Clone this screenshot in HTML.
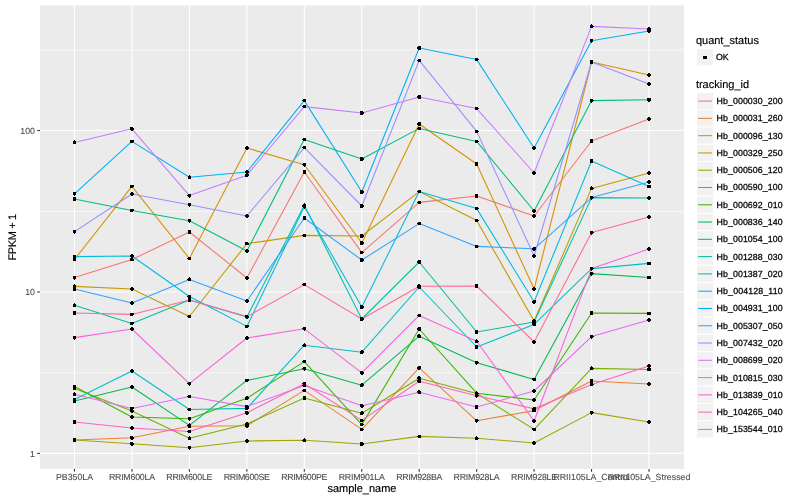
<!DOCTYPE html>
<html lang="en"><head><meta charset="utf-8"><title>FPKM + 1 by sample_name</title>
<style>html,body{margin:0;padding:0;background:#fff;}body{width:800px;height:500px;overflow:hidden;}svg{display:block;text-rendering:geometricPrecision;font-family:"Liberation Sans",Arial,Helvetica,sans-serif;}</style></head><body>
<svg width="800" height="500" viewBox="0 0 800 500">
<rect width="800" height="500" fill="#ffffff"/>
<rect x="40.0" y="5.5" width="643.90" height="463.40" fill="#EBEBEB"/>
<g stroke="#ffffff" fill="none">
<line x1="40.0" x2="683.9" y1="49.9" y2="49.9" stroke-width="0.6"/>
<line x1="40.0" x2="683.9" y1="211.4" y2="211.4" stroke-width="0.6"/>
<line x1="40.0" x2="683.9" y1="372.8" y2="372.8" stroke-width="0.6"/>
<line x1="40.0" x2="683.9" y1="130.5" y2="130.5" stroke-width="1.07"/>
<line x1="40.0" x2="683.9" y1="292.0" y2="292.0" stroke-width="1.07"/>
<line x1="40.0" x2="683.9" y1="453.4" y2="453.4" stroke-width="1.07"/>
<line x1="74.50" x2="74.50" y1="5.5" y2="468.9" stroke-width="1.07"/>
<line x1="131.95" x2="131.95" y1="5.5" y2="468.9" stroke-width="1.07"/>
<line x1="189.40" x2="189.40" y1="5.5" y2="468.9" stroke-width="1.07"/>
<line x1="246.85" x2="246.85" y1="5.5" y2="468.9" stroke-width="1.07"/>
<line x1="304.30" x2="304.30" y1="5.5" y2="468.9" stroke-width="1.07"/>
<line x1="361.75" x2="361.75" y1="5.5" y2="468.9" stroke-width="1.07"/>
<line x1="419.20" x2="419.20" y1="5.5" y2="468.9" stroke-width="1.07"/>
<line x1="476.65" x2="476.65" y1="5.5" y2="468.9" stroke-width="1.07"/>
<line x1="534.10" x2="534.10" y1="5.5" y2="468.9" stroke-width="1.07"/>
<line x1="591.55" x2="591.55" y1="5.5" y2="468.9" stroke-width="1.07"/>
<line x1="649.00" x2="649.00" y1="5.5" y2="468.9" stroke-width="1.07"/>
</g>
<g fill="none" stroke-width="1.07" stroke-linejoin="round" stroke-linecap="butt">
<polyline stroke="#F8766D" points="74.5,277.6 131.9,259.6 189.4,232.0 246.9,278.0 304.3,172.0 361.8,252.6 419.2,202.4 476.7,196.0 534.1,216.0 591.6,141.0 649.0,119.0"/>
<polyline stroke="#EA8331" points="74.5,440.0 131.9,437.8 189.4,426.2 246.9,425.8 304.3,390.4 361.8,429.4 419.2,367.8 476.7,420.8 534.1,410.6 591.6,381.0 649.0,384.0"/>
<polyline stroke="#D89000" points="74.5,259.5 131.9,186.4 189.4,258.5 246.9,148.0 304.3,164.8 361.8,243.0 419.2,124.0 476.7,164.0 534.1,289.0 591.6,62.0 649.0,75.0"/>
<polyline stroke="#C09B00" points="74.5,286.4 131.9,289.0 189.4,316.5 246.9,243.6 304.3,235.4 361.8,236.0 419.2,191.6 476.7,220.6 534.1,321.0 591.6,188.4 649.0,173.0"/>
<polyline stroke="#A3A500" points="74.5,440.0 131.9,443.8 189.4,447.8 246.9,441.0 304.3,440.2 361.8,444.0 419.2,436.4 476.7,438.2 534.1,443.0 591.6,412.6 649.0,422.0"/>
<polyline stroke="#7CAE00" points="74.5,388.5 131.9,411.0 189.4,438.2 246.9,424.0 304.3,398.0 361.8,413.2 419.2,378.2 476.7,393.4 534.1,429.4 591.6,368.4 649.0,369.5"/>
<polyline stroke="#39B600" points="74.5,386.5 131.9,417.0 189.4,418.8 246.9,398.2 304.3,361.6 361.8,424.6 419.2,329.0 476.7,393.2 534.1,400.0 591.6,313.0 649.0,313.4"/>
<polyline stroke="#00BB4E" points="74.5,401.0 131.9,387.0 189.4,425.4 246.9,380.4 304.3,368.8 361.8,385.2 419.2,336.2 476.7,362.8 534.1,379.4 591.6,273.6 649.0,277.5"/>
<polyline stroke="#00BF7D" points="74.5,199.0 131.9,210.4 189.4,220.8 246.9,251.0 304.3,139.6 361.8,159.0 419.2,128.4 476.7,141.4 534.1,211.0 591.6,100.6 649.0,99.8"/>
<polyline stroke="#00C1A3" points="74.5,305.3 131.9,323.4 189.4,300.0 246.9,317.0 304.3,205.2 361.8,319.0 419.2,262.0 476.7,332.0 534.1,322.0 591.6,197.6 649.0,198.0"/>
<polyline stroke="#00BFC4" points="74.5,399.5 131.9,371.0 189.4,409.5 246.9,408.4 304.3,345.2 361.8,352.2 419.2,287.0 476.7,347.0 534.1,324.4 591.6,268.6 649.0,263.4"/>
<polyline stroke="#00BAE0" points="74.5,256.6 131.9,256.0 189.4,296.5 246.9,326.4 304.3,206.8 361.8,307.0 419.2,191.6 476.7,208.6 534.1,301.8 591.6,161.0 649.0,186.5"/>
<polyline stroke="#00B0F6" points="74.5,193.8 131.9,141.4 189.4,177.2 246.9,172.0 304.3,100.6 361.8,192.0 419.2,48.0 476.7,59.6 534.1,148.0 591.6,40.8 649.0,31.0"/>
<polyline stroke="#35A2FF" points="74.5,289.0 131.9,303.0 189.4,279.4 246.9,301.0 304.3,218.0 361.8,260.0 419.2,223.6 476.7,246.4 534.1,248.8 591.6,197.6 649.0,182.0"/>
<polyline stroke="#9590FF" points="74.5,231.6 131.9,194.0 189.4,204.8 246.9,216.0 304.3,147.6 361.8,206.0 419.2,60.4 476.7,131.4 534.1,256.0 591.6,62.0 649.0,84.0"/>
<polyline stroke="#C77CFF" points="74.5,142.4 131.9,128.8 189.4,195.6 246.9,175.2 304.3,106.6 361.8,113.0 419.2,97.0 476.7,108.6 534.1,173.0 591.6,26.4 649.0,29.0"/>
<polyline stroke="#E76BF3" points="74.5,394.2 131.9,408.5 189.4,396.5 246.9,406.6 304.3,385.6 361.8,405.8 419.2,392.2 476.7,407.0 534.1,391.0 591.6,336.6 649.0,320.0"/>
<polyline stroke="#FA62DB" points="74.5,337.6 131.9,329.0 189.4,383.6 246.9,338.0 304.3,328.8 361.8,372.8 419.2,315.4 476.7,341.2 534.1,421.0 591.6,268.6 649.0,249.0"/>
<polyline stroke="#FF62BC" points="74.5,422.0 131.9,428.0 189.4,431.5 246.9,412.8 304.3,383.8 361.8,420.4 419.2,381.2 476.7,395.7 534.1,408.8 591.6,384.4 649.0,366.0"/>
<polyline stroke="#FF6A98" points="74.5,313.0 131.9,314.4 189.4,300.0 246.9,316.6 304.3,284.6 361.8,319.0 419.2,286.2 476.7,286.0 534.1,342.0 591.6,232.6 649.0,216.9"/>
</g>
<g fill="#000000" shape-rendering="crispEdges">
<circle cx="74.5" cy="277.6" r="1.95"/>
<circle cx="131.9" cy="259.6" r="1.95"/>
<circle cx="189.4" cy="232.0" r="1.95"/>
<circle cx="246.9" cy="278.0" r="1.95"/>
<circle cx="304.3" cy="172.0" r="1.95"/>
<circle cx="361.8" cy="252.6" r="1.95"/>
<circle cx="419.2" cy="202.4" r="1.95"/>
<circle cx="476.7" cy="196.0" r="1.95"/>
<circle cx="534.1" cy="216.0" r="1.95"/>
<circle cx="591.6" cy="141.0" r="1.95"/>
<circle cx="649.0" cy="119.0" r="1.95"/>
<circle cx="74.5" cy="440.0" r="1.95"/>
<circle cx="131.9" cy="437.8" r="1.95"/>
<circle cx="189.4" cy="426.2" r="1.95"/>
<circle cx="246.9" cy="425.8" r="1.95"/>
<circle cx="304.3" cy="390.4" r="1.95"/>
<circle cx="361.8" cy="429.4" r="1.95"/>
<circle cx="419.2" cy="367.8" r="1.95"/>
<circle cx="476.7" cy="420.8" r="1.95"/>
<circle cx="534.1" cy="410.6" r="1.95"/>
<circle cx="591.6" cy="381.0" r="1.95"/>
<circle cx="649.0" cy="384.0" r="1.95"/>
<circle cx="74.5" cy="259.5" r="1.95"/>
<circle cx="131.9" cy="186.4" r="1.95"/>
<circle cx="189.4" cy="258.5" r="1.95"/>
<circle cx="246.9" cy="148.0" r="1.95"/>
<circle cx="304.3" cy="164.8" r="1.95"/>
<circle cx="361.8" cy="243.0" r="1.95"/>
<circle cx="419.2" cy="124.0" r="1.95"/>
<circle cx="476.7" cy="164.0" r="1.95"/>
<circle cx="534.1" cy="289.0" r="1.95"/>
<circle cx="591.6" cy="62.0" r="1.95"/>
<circle cx="649.0" cy="75.0" r="1.95"/>
<circle cx="74.5" cy="286.4" r="1.95"/>
<circle cx="131.9" cy="289.0" r="1.95"/>
<circle cx="189.4" cy="316.5" r="1.95"/>
<circle cx="246.9" cy="243.6" r="1.95"/>
<circle cx="304.3" cy="235.4" r="1.95"/>
<circle cx="361.8" cy="236.0" r="1.95"/>
<circle cx="419.2" cy="191.6" r="1.95"/>
<circle cx="476.7" cy="220.6" r="1.95"/>
<circle cx="534.1" cy="321.0" r="1.95"/>
<circle cx="591.6" cy="188.4" r="1.95"/>
<circle cx="649.0" cy="173.0" r="1.95"/>
<circle cx="74.5" cy="440.0" r="1.95"/>
<circle cx="131.9" cy="443.8" r="1.95"/>
<circle cx="189.4" cy="447.8" r="1.95"/>
<circle cx="246.9" cy="441.0" r="1.95"/>
<circle cx="304.3" cy="440.2" r="1.95"/>
<circle cx="361.8" cy="444.0" r="1.95"/>
<circle cx="419.2" cy="436.4" r="1.95"/>
<circle cx="476.7" cy="438.2" r="1.95"/>
<circle cx="534.1" cy="443.0" r="1.95"/>
<circle cx="591.6" cy="412.6" r="1.95"/>
<circle cx="649.0" cy="422.0" r="1.95"/>
<circle cx="74.5" cy="388.5" r="1.95"/>
<circle cx="131.9" cy="411.0" r="1.95"/>
<circle cx="189.4" cy="438.2" r="1.95"/>
<circle cx="246.9" cy="424.0" r="1.95"/>
<circle cx="304.3" cy="398.0" r="1.95"/>
<circle cx="361.8" cy="413.2" r="1.95"/>
<circle cx="419.2" cy="378.2" r="1.95"/>
<circle cx="476.7" cy="393.4" r="1.95"/>
<circle cx="534.1" cy="429.4" r="1.95"/>
<circle cx="591.6" cy="368.4" r="1.95"/>
<circle cx="649.0" cy="369.5" r="1.95"/>
<circle cx="74.5" cy="386.5" r="1.95"/>
<circle cx="131.9" cy="417.0" r="1.95"/>
<circle cx="189.4" cy="418.8" r="1.95"/>
<circle cx="246.9" cy="398.2" r="1.95"/>
<circle cx="304.3" cy="361.6" r="1.95"/>
<circle cx="361.8" cy="424.6" r="1.95"/>
<circle cx="419.2" cy="329.0" r="1.95"/>
<circle cx="476.7" cy="393.2" r="1.95"/>
<circle cx="534.1" cy="400.0" r="1.95"/>
<circle cx="591.6" cy="313.0" r="1.95"/>
<circle cx="649.0" cy="313.4" r="1.95"/>
<circle cx="74.5" cy="401.0" r="1.95"/>
<circle cx="131.9" cy="387.0" r="1.95"/>
<circle cx="189.4" cy="425.4" r="1.95"/>
<circle cx="246.9" cy="380.4" r="1.95"/>
<circle cx="304.3" cy="368.8" r="1.95"/>
<circle cx="361.8" cy="385.2" r="1.95"/>
<circle cx="419.2" cy="336.2" r="1.95"/>
<circle cx="476.7" cy="362.8" r="1.95"/>
<circle cx="534.1" cy="379.4" r="1.95"/>
<circle cx="591.6" cy="273.6" r="1.95"/>
<circle cx="649.0" cy="277.5" r="1.95"/>
<circle cx="74.5" cy="199.0" r="1.95"/>
<circle cx="131.9" cy="210.4" r="1.95"/>
<circle cx="189.4" cy="220.8" r="1.95"/>
<circle cx="246.9" cy="251.0" r="1.95"/>
<circle cx="304.3" cy="139.6" r="1.95"/>
<circle cx="361.8" cy="159.0" r="1.95"/>
<circle cx="419.2" cy="128.4" r="1.95"/>
<circle cx="476.7" cy="141.4" r="1.95"/>
<circle cx="534.1" cy="211.0" r="1.95"/>
<circle cx="591.6" cy="100.6" r="1.95"/>
<circle cx="649.0" cy="99.8" r="1.95"/>
<circle cx="74.5" cy="305.3" r="1.95"/>
<circle cx="131.9" cy="323.4" r="1.95"/>
<circle cx="189.4" cy="300.0" r="1.95"/>
<circle cx="246.9" cy="317.0" r="1.95"/>
<circle cx="304.3" cy="205.2" r="1.95"/>
<circle cx="361.8" cy="319.0" r="1.95"/>
<circle cx="419.2" cy="262.0" r="1.95"/>
<circle cx="476.7" cy="332.0" r="1.95"/>
<circle cx="534.1" cy="322.0" r="1.95"/>
<circle cx="591.6" cy="197.6" r="1.95"/>
<circle cx="649.0" cy="198.0" r="1.95"/>
<circle cx="74.5" cy="399.5" r="1.95"/>
<circle cx="131.9" cy="371.0" r="1.95"/>
<circle cx="189.4" cy="409.5" r="1.95"/>
<circle cx="246.9" cy="408.4" r="1.95"/>
<circle cx="304.3" cy="345.2" r="1.95"/>
<circle cx="361.8" cy="352.2" r="1.95"/>
<circle cx="419.2" cy="287.0" r="1.95"/>
<circle cx="476.7" cy="347.0" r="1.95"/>
<circle cx="534.1" cy="324.4" r="1.95"/>
<circle cx="591.6" cy="268.6" r="1.95"/>
<circle cx="649.0" cy="263.4" r="1.95"/>
<circle cx="74.5" cy="256.6" r="1.95"/>
<circle cx="131.9" cy="256.0" r="1.95"/>
<circle cx="189.4" cy="296.5" r="1.95"/>
<circle cx="246.9" cy="326.4" r="1.95"/>
<circle cx="304.3" cy="206.8" r="1.95"/>
<circle cx="361.8" cy="307.0" r="1.95"/>
<circle cx="419.2" cy="191.6" r="1.95"/>
<circle cx="476.7" cy="208.6" r="1.95"/>
<circle cx="534.1" cy="301.8" r="1.95"/>
<circle cx="591.6" cy="161.0" r="1.95"/>
<circle cx="649.0" cy="186.5" r="1.95"/>
<circle cx="74.5" cy="193.8" r="1.95"/>
<circle cx="131.9" cy="141.4" r="1.95"/>
<circle cx="189.4" cy="177.2" r="1.95"/>
<circle cx="246.9" cy="172.0" r="1.95"/>
<circle cx="304.3" cy="100.6" r="1.95"/>
<circle cx="361.8" cy="192.0" r="1.95"/>
<circle cx="419.2" cy="48.0" r="1.95"/>
<circle cx="476.7" cy="59.6" r="1.95"/>
<circle cx="534.1" cy="148.0" r="1.95"/>
<circle cx="591.6" cy="40.8" r="1.95"/>
<circle cx="649.0" cy="31.0" r="1.95"/>
<circle cx="74.5" cy="289.0" r="1.95"/>
<circle cx="131.9" cy="303.0" r="1.95"/>
<circle cx="189.4" cy="279.4" r="1.95"/>
<circle cx="246.9" cy="301.0" r="1.95"/>
<circle cx="304.3" cy="218.0" r="1.95"/>
<circle cx="361.8" cy="260.0" r="1.95"/>
<circle cx="419.2" cy="223.6" r="1.95"/>
<circle cx="476.7" cy="246.4" r="1.95"/>
<circle cx="534.1" cy="248.8" r="1.95"/>
<circle cx="591.6" cy="197.6" r="1.95"/>
<circle cx="649.0" cy="182.0" r="1.95"/>
<circle cx="74.5" cy="231.6" r="1.95"/>
<circle cx="131.9" cy="194.0" r="1.95"/>
<circle cx="189.4" cy="204.8" r="1.95"/>
<circle cx="246.9" cy="216.0" r="1.95"/>
<circle cx="304.3" cy="147.6" r="1.95"/>
<circle cx="361.8" cy="206.0" r="1.95"/>
<circle cx="419.2" cy="60.4" r="1.95"/>
<circle cx="476.7" cy="131.4" r="1.95"/>
<circle cx="534.1" cy="256.0" r="1.95"/>
<circle cx="591.6" cy="62.0" r="1.95"/>
<circle cx="649.0" cy="84.0" r="1.95"/>
<circle cx="74.5" cy="142.4" r="1.95"/>
<circle cx="131.9" cy="128.8" r="1.95"/>
<circle cx="189.4" cy="195.6" r="1.95"/>
<circle cx="246.9" cy="175.2" r="1.95"/>
<circle cx="304.3" cy="106.6" r="1.95"/>
<circle cx="361.8" cy="113.0" r="1.95"/>
<circle cx="419.2" cy="97.0" r="1.95"/>
<circle cx="476.7" cy="108.6" r="1.95"/>
<circle cx="534.1" cy="173.0" r="1.95"/>
<circle cx="591.6" cy="26.4" r="1.95"/>
<circle cx="649.0" cy="29.0" r="1.95"/>
<circle cx="74.5" cy="394.2" r="1.95"/>
<circle cx="131.9" cy="408.5" r="1.95"/>
<circle cx="189.4" cy="396.5" r="1.95"/>
<circle cx="246.9" cy="406.6" r="1.95"/>
<circle cx="304.3" cy="385.6" r="1.95"/>
<circle cx="361.8" cy="405.8" r="1.95"/>
<circle cx="419.2" cy="392.2" r="1.95"/>
<circle cx="476.7" cy="407.0" r="1.95"/>
<circle cx="534.1" cy="391.0" r="1.95"/>
<circle cx="591.6" cy="336.6" r="1.95"/>
<circle cx="649.0" cy="320.0" r="1.95"/>
<circle cx="74.5" cy="337.6" r="1.95"/>
<circle cx="131.9" cy="329.0" r="1.95"/>
<circle cx="189.4" cy="383.6" r="1.95"/>
<circle cx="246.9" cy="338.0" r="1.95"/>
<circle cx="304.3" cy="328.8" r="1.95"/>
<circle cx="361.8" cy="372.8" r="1.95"/>
<circle cx="419.2" cy="315.4" r="1.95"/>
<circle cx="476.7" cy="341.2" r="1.95"/>
<circle cx="534.1" cy="421.0" r="1.95"/>
<circle cx="591.6" cy="268.6" r="1.95"/>
<circle cx="649.0" cy="249.0" r="1.95"/>
<circle cx="74.5" cy="422.0" r="1.95"/>
<circle cx="131.9" cy="428.0" r="1.95"/>
<circle cx="189.4" cy="431.5" r="1.95"/>
<circle cx="246.9" cy="412.8" r="1.95"/>
<circle cx="304.3" cy="383.8" r="1.95"/>
<circle cx="361.8" cy="420.4" r="1.95"/>
<circle cx="419.2" cy="381.2" r="1.95"/>
<circle cx="476.7" cy="395.7" r="1.95"/>
<circle cx="534.1" cy="408.8" r="1.95"/>
<circle cx="591.6" cy="384.4" r="1.95"/>
<circle cx="649.0" cy="366.0" r="1.95"/>
<circle cx="74.5" cy="313.0" r="1.95"/>
<circle cx="131.9" cy="314.4" r="1.95"/>
<circle cx="189.4" cy="300.0" r="1.95"/>
<circle cx="246.9" cy="316.6" r="1.95"/>
<circle cx="304.3" cy="284.6" r="1.95"/>
<circle cx="361.8" cy="319.0" r="1.95"/>
<circle cx="419.2" cy="286.2" r="1.95"/>
<circle cx="476.7" cy="286.0" r="1.95"/>
<circle cx="534.1" cy="342.0" r="1.95"/>
<circle cx="591.6" cy="232.6" r="1.95"/>
<circle cx="649.0" cy="216.9" r="1.95"/>
</g>
<g stroke="#333333" stroke-width="1.07">
<line x1="37.25" x2="40.0" y1="130.5" y2="130.5"/>
<line x1="37.25" x2="40.0" y1="292.0" y2="292.0"/>
<line x1="37.25" x2="40.0" y1="453.4" y2="453.4"/>
<line x1="74.50" x2="74.50" y1="468.9" y2="471.65"/>
<line x1="131.95" x2="131.95" y1="468.9" y2="471.65"/>
<line x1="189.40" x2="189.40" y1="468.9" y2="471.65"/>
<line x1="246.85" x2="246.85" y1="468.9" y2="471.65"/>
<line x1="304.30" x2="304.30" y1="468.9" y2="471.65"/>
<line x1="361.75" x2="361.75" y1="468.9" y2="471.65"/>
<line x1="419.20" x2="419.20" y1="468.9" y2="471.65"/>
<line x1="476.65" x2="476.65" y1="468.9" y2="471.65"/>
<line x1="534.10" x2="534.10" y1="468.9" y2="471.65"/>
<line x1="591.55" x2="591.55" y1="468.9" y2="471.65"/>
<line x1="649.00" x2="649.00" y1="468.9" y2="471.65"/>
</g>
<g font-size="8.8px" fill="#4D4D4D" stroke="#4D4D4D" stroke-width="0.1">
<text x="35.0" y="133.65" text-anchor="end">100</text>
<text x="35.0" y="295.15" text-anchor="end">10</text>
<text x="35.0" y="456.55" text-anchor="end">1</text>
<text x="74.50" y="479.9" text-anchor="middle">PB350LA</text>
<text x="131.95" y="479.9" text-anchor="middle" textLength="46.15" lengthAdjust="spacing">RRIM600LA</text>
<text x="189.40" y="479.9" text-anchor="middle" textLength="46.15" lengthAdjust="spacing">RRIM600LE</text>
<text x="246.85" y="479.9" text-anchor="middle" textLength="46.15" lengthAdjust="spacing">RRIM600SE</text>
<text x="304.30" y="479.9" text-anchor="middle" textLength="46.15" lengthAdjust="spacing">RRIM600PE</text>
<text x="361.75" y="479.9" text-anchor="middle" textLength="46.15" lengthAdjust="spacing">RRIM901LA</text>
<text x="419.20" y="479.9" text-anchor="middle" textLength="46.15" lengthAdjust="spacing">RRIM928BA</text>
<text x="476.65" y="479.9" text-anchor="middle" textLength="46.15" lengthAdjust="spacing">RRIM928LA</text>
<text x="534.10" y="479.9" text-anchor="middle" textLength="46.15" lengthAdjust="spacing">RRIM928LE</text>
<text x="591.55" y="479.9" text-anchor="middle">RRII105LA_Control</text>
<text x="649.00" y="479.9" text-anchor="middle">RRII105LA_Stressed</text>
</g>
<g font-size="11px" fill="#000000" stroke="#000000" stroke-width="0.15">
<text x="361.95" y="492.1" text-anchor="middle">sample_name</text>
<text transform="translate(16.4,237.20) rotate(-90)" text-anchor="middle" textLength="46.6" lengthAdjust="spacing">FPKM + 1</text>
</g>
<g font-size="11px" fill="#000000" stroke="#000000" stroke-width="0.15">
<text x="695.9" y="44.0">quant_status</text>
<text x="695.9" y="88.3">tracking_id</text>
</g>
<rect x="696.45" y="48.65" width="17.28" height="17.28" fill="#F2F2F2" stroke="#ffffff" stroke-width="1.07"/>
<circle cx="705.0" cy="57.35" r="1.95" fill="#000" shape-rendering="crispEdges"/>
<g font-size="8.8px" fill="#000000" stroke="#000000" stroke-width="0.25">
<text x="716.0" y="60.39">OK</text>
<rect x="696.45" y="92.46" width="17.28" height="17.28" fill="#F2F2F2" stroke="#ffffff" stroke-width="1.07"/>
<line x1="698.18" x2="712.00" y1="101.10" y2="101.10" stroke="#F8766D" stroke-width="1.07"/>
<text x="716.6" y="104.05" textLength="66.0" lengthAdjust="spacing">Hb_000030_200</text>
<rect x="696.45" y="109.74" width="17.28" height="17.28" fill="#F2F2F2" stroke="#ffffff" stroke-width="1.07"/>
<line x1="698.18" x2="712.00" y1="118.38" y2="118.38" stroke="#EA8331" stroke-width="1.07"/>
<text x="716.6" y="121.33" textLength="66.0" lengthAdjust="spacing">Hb_000031_260</text>
<rect x="696.45" y="127.02" width="17.28" height="17.28" fill="#F2F2F2" stroke="#ffffff" stroke-width="1.07"/>
<line x1="698.18" x2="712.00" y1="135.66" y2="135.66" stroke="#D89000" stroke-width="1.07"/>
<text x="716.6" y="138.61" textLength="66.0" lengthAdjust="spacing">Hb_000096_130</text>
<rect x="696.45" y="144.30" width="17.28" height="17.28" fill="#F2F2F2" stroke="#ffffff" stroke-width="1.07"/>
<line x1="698.18" x2="712.00" y1="152.94" y2="152.94" stroke="#C09B00" stroke-width="1.07"/>
<text x="716.6" y="155.89" textLength="66.0" lengthAdjust="spacing">Hb_000329_250</text>
<rect x="696.45" y="161.58" width="17.28" height="17.28" fill="#F2F2F2" stroke="#ffffff" stroke-width="1.07"/>
<line x1="698.18" x2="712.00" y1="170.22" y2="170.22" stroke="#A3A500" stroke-width="1.07"/>
<text x="716.6" y="173.17" textLength="66.0" lengthAdjust="spacing">Hb_000506_120</text>
<rect x="696.45" y="178.86" width="17.28" height="17.28" fill="#F2F2F2" stroke="#ffffff" stroke-width="1.07"/>
<line x1="698.18" x2="712.00" y1="187.50" y2="187.50" stroke="#7CAE00" stroke-width="1.07"/>
<text x="716.6" y="190.45" textLength="66.0" lengthAdjust="spacing">Hb_000590_100</text>
<rect x="696.45" y="196.14" width="17.28" height="17.28" fill="#F2F2F2" stroke="#ffffff" stroke-width="1.07"/>
<line x1="698.18" x2="712.00" y1="204.78" y2="204.78" stroke="#39B600" stroke-width="1.07"/>
<text x="716.6" y="207.73" textLength="66.0" lengthAdjust="spacing">Hb_000692_010</text>
<rect x="696.45" y="213.42" width="17.28" height="17.28" fill="#F2F2F2" stroke="#ffffff" stroke-width="1.07"/>
<line x1="698.18" x2="712.00" y1="222.06" y2="222.06" stroke="#00BB4E" stroke-width="1.07"/>
<text x="716.6" y="225.01" textLength="66.0" lengthAdjust="spacing">Hb_000836_140</text>
<rect x="696.45" y="230.70" width="17.28" height="17.28" fill="#F2F2F2" stroke="#ffffff" stroke-width="1.07"/>
<line x1="698.18" x2="712.00" y1="239.34" y2="239.34" stroke="#00BF7D" stroke-width="1.07"/>
<text x="716.6" y="242.29" textLength="66.0" lengthAdjust="spacing">Hb_001054_100</text>
<rect x="696.45" y="247.98" width="17.28" height="17.28" fill="#F2F2F2" stroke="#ffffff" stroke-width="1.07"/>
<line x1="698.18" x2="712.00" y1="256.62" y2="256.62" stroke="#00C1A3" stroke-width="1.07"/>
<text x="716.6" y="259.57" textLength="66.0" lengthAdjust="spacing">Hb_001288_030</text>
<rect x="696.45" y="265.26" width="17.28" height="17.28" fill="#F2F2F2" stroke="#ffffff" stroke-width="1.07"/>
<line x1="698.18" x2="712.00" y1="273.90" y2="273.90" stroke="#00BFC4" stroke-width="1.07"/>
<text x="716.6" y="276.85" textLength="66.0" lengthAdjust="spacing">Hb_001387_020</text>
<rect x="696.45" y="282.54" width="17.28" height="17.28" fill="#F2F2F2" stroke="#ffffff" stroke-width="1.07"/>
<line x1="698.18" x2="712.00" y1="291.18" y2="291.18" stroke="#00BAE0" stroke-width="1.07"/>
<text x="716.6" y="294.13" textLength="66.0" lengthAdjust="spacing">Hb_004128_110</text>
<rect x="696.45" y="299.82" width="17.28" height="17.28" fill="#F2F2F2" stroke="#ffffff" stroke-width="1.07"/>
<line x1="698.18" x2="712.00" y1="308.46" y2="308.46" stroke="#00B0F6" stroke-width="1.07"/>
<text x="716.6" y="311.41" textLength="66.0" lengthAdjust="spacing">Hb_004931_100</text>
<rect x="696.45" y="317.10" width="17.28" height="17.28" fill="#F2F2F2" stroke="#ffffff" stroke-width="1.07"/>
<line x1="698.18" x2="712.00" y1="325.74" y2="325.74" stroke="#35A2FF" stroke-width="1.07"/>
<text x="716.6" y="328.69" textLength="66.0" lengthAdjust="spacing">Hb_005307_050</text>
<rect x="696.45" y="334.38" width="17.28" height="17.28" fill="#F2F2F2" stroke="#ffffff" stroke-width="1.07"/>
<line x1="698.18" x2="712.00" y1="343.02" y2="343.02" stroke="#9590FF" stroke-width="1.07"/>
<text x="716.6" y="345.97" textLength="66.0" lengthAdjust="spacing">Hb_007432_020</text>
<rect x="696.45" y="351.66" width="17.28" height="17.28" fill="#F2F2F2" stroke="#ffffff" stroke-width="1.07"/>
<line x1="698.18" x2="712.00" y1="360.30" y2="360.30" stroke="#C77CFF" stroke-width="1.07"/>
<text x="716.6" y="363.25" textLength="66.0" lengthAdjust="spacing">Hb_008699_020</text>
<rect x="696.45" y="368.94" width="17.28" height="17.28" fill="#F2F2F2" stroke="#ffffff" stroke-width="1.07"/>
<line x1="698.18" x2="712.00" y1="377.58" y2="377.58" stroke="#E76BF3" stroke-width="1.07"/>
<text x="716.6" y="380.53" textLength="66.0" lengthAdjust="spacing">Hb_010815_030</text>
<rect x="696.45" y="386.22" width="17.28" height="17.28" fill="#F2F2F2" stroke="#ffffff" stroke-width="1.07"/>
<line x1="698.18" x2="712.00" y1="394.86" y2="394.86" stroke="#FA62DB" stroke-width="1.07"/>
<text x="716.6" y="397.81" textLength="66.0" lengthAdjust="spacing">Hb_013839_010</text>
<rect x="696.45" y="403.50" width="17.28" height="17.28" fill="#F2F2F2" stroke="#ffffff" stroke-width="1.07"/>
<line x1="698.18" x2="712.00" y1="412.14" y2="412.14" stroke="#FF62BC" stroke-width="1.07"/>
<text x="716.6" y="415.09" textLength="66.0" lengthAdjust="spacing">Hb_104265_040</text>
<rect x="696.45" y="420.78" width="17.28" height="17.28" fill="#F2F2F2" stroke="#ffffff" stroke-width="1.07"/>
<line x1="698.18" x2="712.00" y1="429.42" y2="429.42" stroke="#FF6A98" stroke-width="1.07"/>
<text x="716.6" y="432.37" textLength="66.0" lengthAdjust="spacing">Hb_153544_010</text>
</g>
</svg></body></html>
